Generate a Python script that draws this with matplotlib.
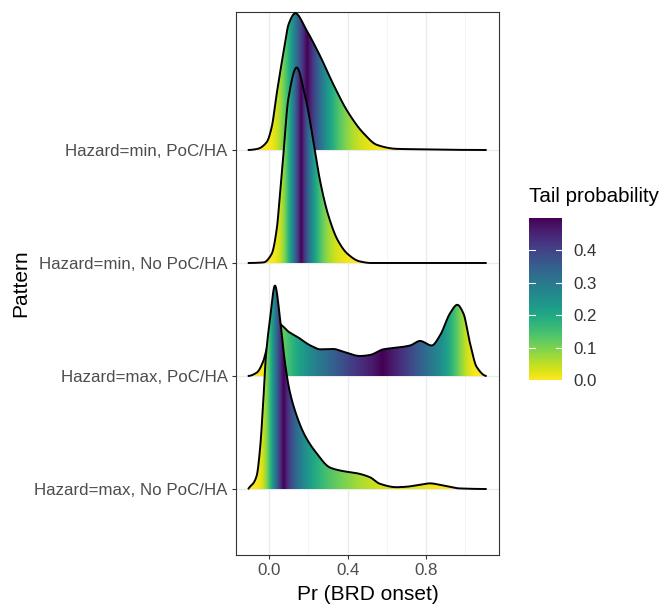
import matplotlib
matplotlib.use("Agg")
import matplotlib.pyplot as plt
import numpy as np
from matplotlib.patches import Polygon

plt.rcParams['font.family'] = ['Liberation Sans', 'DejaVu Sans']

# categories, bottom to top
patterns = ['Hazard=max, No PoC/HA', 'Hazard=max, PoC/HA',
            'Hazard=min, No PoC/HA', 'Hazard=min, PoC/HA']

# ridge outlines (x, height in row units)
min_poc_x = [-0.11, -0.06, -0.013, 0.012, 0.038, 0.072, 0.10, 0.133, 0.19, 0.26,
             0.33, 0.40, 0.48, 0.55, 0.65, 0.77, 0.90, 1.11]
min_poc_h = [0.0, 0.01, 0.07, 0.20, 0.50, 0.86, 1.12, 1.21, 1.06, 0.83,
             0.57, 0.34, 0.15, 0.045, 0.01, 0.006, 0.002, 0.0]

min_nopoc_x = [-0.11, -0.03, 0.012, 0.038, 0.055, 0.072, 0.097, 0.14, 0.18, 0.225,
               0.259, 0.30, 0.35, 0.40, 0.46, 0.52, 1.11]
min_nopoc_h = [0.0, 0.005, 0.08, 0.30, 0.62, 0.96, 1.45, 1.73, 1.50, 1.08,
               0.73, 0.43, 0.20, 0.08, 0.015, 0.0, 0.0]

max_poc_x = [-0.11, -0.064, -0.031, -0.013, 0.02, 0.045, 0.063, 0.10, 0.14, 0.21,
             0.26, 0.327, 0.378, 0.463, 0.514, 0.582, 0.667, 0.719, 0.77, 0.829,
             0.872, 0.923, 0.96, 0.991, 1.025, 1.059, 1.11]
max_poc_h = [0.0, 0.03, 0.13, 0.24, 0.38, 0.47, 0.45, 0.39, 0.35, 0.27,
             0.236, 0.239, 0.215, 0.177, 0.186, 0.236, 0.254, 0.27, 0.31, 0.27,
             0.36, 0.555, 0.63, 0.555, 0.29, 0.08, 0.0]

max_nopoc_x = [-0.11, -0.099, -0.082, -0.064, -0.047, -0.031, -0.018, 0.004, 0.029, 0.055,
               0.077, 0.10, 0.13, 0.18, 0.24, 0.31, 0.378, 0.446, 0.514, 0.565,
               0.65, 0.70, 0.76, 0.82, 0.889, 0.974, 1.11]
max_nopoc_h = [0.0, 0.02, 0.05, 0.12, 0.36, 0.77, 1.16, 1.51, 1.80, 1.51,
               1.16, 0.90, 0.70, 0.48, 0.32, 0.19, 0.158, 0.14, 0.104, 0.046,
               0.016, 0.02, 0.035, 0.05, 0.03, 0.005, 0.0]

ridges = [(max_nopoc_x, max_nopoc_h), (max_poc_x, max_poc_h),
          (min_nopoc_x, min_nopoc_h), (min_poc_x, min_poc_h)]

x_ticks = [0.0, 0.4, 0.8]
bar_ticks = [0.0, 0.1, 0.2, 0.3, 0.4]


def pchip(x, y, xn):
    x = np.asarray(x, float)
    y = np.asarray(y, float)
    h = np.diff(x)
    d = np.diff(y) / h
    m = np.zeros_like(y)
    for k in range(1, len(x) - 1):
        if d[k - 1] * d[k] > 0:
            w1 = 2 * h[k] + h[k - 1]
            w2 = h[k] + 2 * h[k - 1]
            m[k] = (w1 + w2) / (w1 / d[k - 1] + w2 / d[k])
    i = np.clip(np.searchsorted(x, xn) - 1, 0, len(x) - 2)
    t = (xn - x[i]) / h[i]
    return ((2 * t**3 - 3 * t**2 + 1) * y[i] + (t**3 - 2 * t**2 + t) * h[i] * m[i]
            + (-2 * t**3 + 3 * t**2) * y[i + 1] + (t**3 - t**2) * h[i] * m[i + 1])


fig = plt.figure(figsize=(6.64, 6.07), dpi=100)
ax = fig.add_axes([236 / 664, 1 - 555 / 607, 263 / 664, 543 / 607])

cmap = plt.get_cmap('viridis_r')

# draw top row first so lower rows sit in front
for row in range(len(ridges) - 1, -1, -1):
    xr, hr = ridges[row]
    base = row + 1
    xs = np.linspace(xr[0], xr[-1], 900)
    ys = np.clip(pchip(xr, hr, xs), 0, None)
    cdf = np.cumsum(ys)
    cdf = cdf / cdf[-1]
    tail = np.minimum(cdf, 1 - cdf)
    z = 10 + (len(ridges) - row) * 2
    im = ax.imshow(tail[None, :], extent=[xs[0], xs[-1], base, base + ys.max()],
                   origin='lower', aspect='auto', cmap=cmap, vmin=0, vmax=0.5,
                   interpolation='bilinear', zorder=z)
    verts = np.column_stack([np.r_[xs, xs[::-1]], np.r_[base + ys, np.full_like(xs, base)]])
    poly = Polygon(verts, closed=True, facecolor='none', edgecolor='none')
    ax.add_patch(poly)
    im.set_clip_path(poly)
    ax.plot(xs, base + ys, color='black', lw=1.4, zorder=z + 1, solid_capstyle='butt')

ax.set_xlim(-0.17, 1.173)
ax.set_ylim(0.416, 5.221)

ax.set_xticks(x_ticks)
ax.set_xticklabels(['%.1f' % v for v in x_ticks])
ax.set_xticks([0.2, 0.6, 1.0], minor=True)
ax.set_yticks(range(1, len(patterns) + 1))
ax.set_yticklabels(patterns)

ax.grid(which='major', color='#EBEBEB', lw=1.0, zorder=0)
ax.grid(which='minor', axis='x', color='#F4F4F4', lw=0.6, zorder=0)
ax.set_axisbelow(True)
ax.tick_params(which='major', length=3, width=0.8, color='#333333',
               labelsize=12.2, labelcolor='#4D4D4D', pad=3)
ax.tick_params(which='minor', length=0)
for sp in ax.spines.values():
    sp.set_color('#333333')
    sp.set_linewidth(0.8)

fig.text(367.5 / 664, 1 - 595 / 607, 'Pr (BRD onset)', ha='center', va='center', fontsize=15)
fig.text(20.5 / 664, 1 - 283 / 607, 'Pattern', ha='center', va='center',
         rotation=90, fontsize=15)

# colour bar legend
cax = fig.add_axes([529 / 664, 1 - 380 / 607, 33 / 664, 162 / 607])
sm = plt.cm.ScalarMappable(cmap=cmap, norm=plt.Normalize(0, 0.5))
cb = fig.colorbar(sm, cax=cax, ticks=bar_ticks)
cb.outline.set_visible(False)
cb.ax.set_yticklabels(['%.1f' % v for v in bar_ticks])
cb.ax.tick_params(length=0, labelsize=12.2, labelcolor='#333333', pad=8)
for v in bar_ticks[1:]:
    cax.plot([0, 0.18], [v, v], color='white', lw=0.8, transform=cax.get_yaxis_transform())
    cax.plot([0.82, 1], [v, v], color='white', lw=0.8, transform=cax.get_yaxis_transform())
fig.text(529 / 664, 1 - 196 / 607, 'Tail probability', ha='left', va='center', fontsize=14.8)

fig.savefig('out.png', dpi=100)
